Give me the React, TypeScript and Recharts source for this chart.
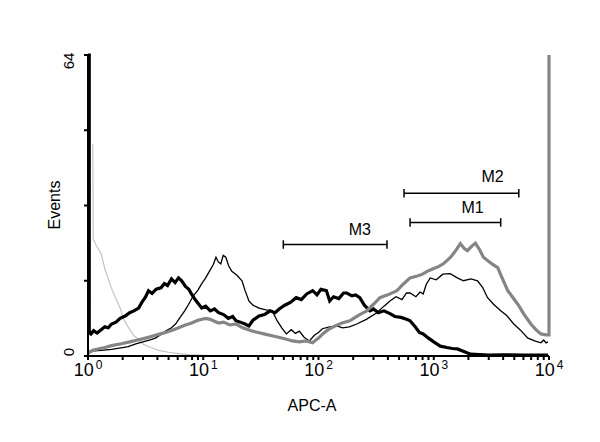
import { LineChart, Line, XAxis, YAxis, ReferenceLine, ReferenceDot } from "recharts";

// [channel value, events]
const thickBlack = [
  [1, 64], [1.025, 64], [1.025, 5], [1.06, 4.7], [1.12, 5.4], [1.2, 4.9], [1.3, 5.6], [1.4, 6.2], [1.5, 6.0], [1.6, 6.8],
  [1.75, 7.2], [1.9, 8.0], [2.1, 8.5], [2.3, 9.2], [2.5, 9.6], [2.75, 10.2], [2.95, 11.5], [3.15, 12.5],
  [3.35, 13.9], [3.6, 13.3], [3.9, 14.2], [4.3, 14.5], [4.6, 15.4], [4.9, 15.0], [5.3, 16.4], [5.7, 15.6],
  [6.1, 16.6], [6.5, 16.0], [7.0, 14.8], [7.5, 14.2], [7.9, 13.2], [8.5, 12.0], [9.0, 11.2], [9.7, 10.2],
  [10.5, 10.6], [11.5, 9.6], [12.5, 10.0], [13.6, 9.2], [15, 8.8], [16.5, 8.0], [18, 8.4], [19.2, 7.5],
  [21, 7.2], [23, 6.8], [24.9, 6.4], [27, 7.6], [30.5, 8.5], [34, 8.8], [38, 9.6], [42, 9.2], [45.6, 10],
  [51, 10.8], [57, 11.4], [64, 12.4], [71, 12.0], [79, 13.2], [89, 13.9], [97, 13.0], [105, 14.2],
  [117, 13.9], [125, 11.7], [135, 12.6], [150, 12.2], [165, 13.4], [176, 13.4], [195, 12.8], [210, 13.0],
  [228, 12.4], [250, 10.8], [279, 9.6], [300, 10.0], [330, 9.2], [370, 9.6], [417, 9.0], [460, 8.4],
  [520, 8.2], [580, 7.8], [623, 7.5], [690, 6.2], [750, 5.0], [810, 4.7], [900, 3.8], [1000, 3.0],
  [1140, 2.1], [1300, 1.8], [1450, 1.6], [1600, 1.5], [1850, 0.9], [2080, 0.4], [2500, 0.3], [3000, 0.2],
  [4000, 0.25], [6000, 0.2], [8000, 0.2], [9800, 0.2],
];

const thinBlack = [
  [1, 1], [1.3, 1.2], [1.6, 1.4], [2.0, 1.8], [2.23, 2], [2.6, 2.6], [3.0, 3.0], [3.4, 3.4], [3.85, 3.8],
  [4.3, 4.6], [4.8, 5.4], [5.3, 6.0], [5.75, 6.8], [6.3, 8.2], [6.9, 9.6], [7.47, 11], [8.2, 12.8],
  [9.0, 14.0], [9.7, 15.4], [10.5, 16.6], [11.3, 18.0], [12.2, 19.4], [12.9, 21], [13.5, 20.0],
  [14.2, 19.6], [14.9, 21.4], [15.7, 21], [16.6, 19.2], [17.7, 18], [19.5, 17.2], [21.7, 16], [23, 14.0],
  [24.9, 11.7], [27, 10.8], [30.5, 10.2], [35, 9.8], [39.6, 9.6], [44, 7.4], [48, 6.0], [52.6, 4.7],
  [58, 5.6], [63, 4.8], [68.2, 5.3], [75, 4.0], [83.5, 3.2], [92, 4.4], [100, 5.0], [108, 5.8],
  [125, 6.2], [144, 6.4], [162, 6.0], [185, 6.2], [215, 6.8], [260, 7.8], [321, 9.2], [370, 10.6],
  [417, 11.7], [470, 12.6], [530, 12.0], [580, 13.4], [623, 13.4], [700, 12.6], [760, 13.6], [810, 13.2],
  [860, 15.2], [931, 16.6], [1050, 16.2], [1200, 17.4], [1390, 17.5], [1600, 16.6], [1810, 16],
  [2100, 16.4], [2400, 16], [2650, 14.6], [2930, 12.4], [3300, 11.0], [3810, 9.6], [4300, 8.6],
  [4940, 6.8], [5600, 5.6], [6560, 3.8], [7500, 3.2], [8510, 2.8], [9000, 3.4], [9420, 2.8], [9800, 3.0],
];

const grayThick = [
  [1, 0.6], [1.1, 1.2], [1.22, 1.5], [1.4, 1.8], [1.6, 2.2], [1.94, 2.6], [2.3, 3.0], [2.7, 3.4],
  [3.15, 3.8], [3.6, 4.2], [4.1, 4.6], [4.7, 5], [5.3, 5.4], [6.11, 6], [7.0, 6.6], [7.94, 7], [9.0, 7.6],
  [10.5, 8], [11.5, 7.8], [12.5, 7.4], [13.6, 7], [15, 7.2], [17, 6.6], [19.2, 6.8], [22, 6.0],
  [26.5, 5.3], [30, 5.0], [35, 4.6], [39.6, 4.3], [45, 4.0], [52, 3.6], [59.3, 3.2], [68, 3.0], [78, 3.2],
  [88.7, 2.8], [100, 3.8], [110, 4.8], [117, 5.3], [125, 5.8], [140, 6.4], [160, 7.0], [187, 7.5],
  [220, 8.6], [262, 9.6], [300, 11.0], [341, 12.4], [400, 13.0], [480, 13.9], [540, 15.2], [623, 16.6],
  [720, 17.0], [800, 17.4], [877, 18], [1000, 18.6], [1100, 19.0], [1210, 19.6], [1400, 21.0],
  [1550, 22.4], [1700, 23.9], [1850, 22.8], [1960, 22.4], [2150, 23.4], [2300, 24], [2500, 22.6],
  [2700, 21.0], [2930, 20.3], [3200, 19.6], [3590, 18.8], [3950, 16.4], [4390, 13.9], [4800, 12.6],
  [5360, 11], [6100, 8.8], [6960, 6.8], [7700, 5.6], [8510, 4.7], [9420, 4.5], [10000, 4.5], [10000, 64],
];

const lightGray = [
  [1.1, 45], [1.11, 25], [1.18, 23.5], [1.3, 21.8], [1.4, 18.5], [1.5, 16.4], [1.62, 14.0], [1.76, 12],
  [1.9, 10.2], [2.02, 8], [2.2, 6.4], [2.47, 4.5], [2.75, 3.4], [3.02, 2.5], [3.5, 1.8], [4.09, 1.2],
  [5, 0.8], [6.11, 0.5], [7.5, 0.3], [9.14, 0.2], [13.6, 0],
];

// markers: name, from, to, level, label x, label y
const markerNames = ["M1", "M2", "M3"];
const markerFrom = [623, 552, 49.5];
const markerTo = [3810, 5470, 393];
const markerLevel = [28.4, 34.6, 23.7];
const markerLabelX = [2170, 3240, 228];
const markerLabelY = [31.6, 38.2, 27];

const decades = [1, 10, 100, 1000, 10000];
const minorSteps = [2, 3, 4, 5, 6, 7, 8, 9];
const yTicks = [0, 16, 32, 48, 64];

const xTicks = [
  ...decades,
  ...decades.slice(0, 4).flatMap((d) => minorSteps.map((m) => d * m)),
].sort((a, b) => a - b);

const toPoints = (rows: number[][]) => rows.map(([x, y]) => ({ x, y }));

const FONT = "'Liberation Sans', Arial, sans-serif";

function XTick(props: any) {
  const { x, y, payload } = props;
  const exp = decades.indexOf(payload.value);
  if (exp < 0) return null;
  return (
    <text x={x} y={y + 14} fontFamily={FONT} fontSize={18} fill="#000" textAnchor="middle">
      10
      <tspan dx={2} dy={-7} fontSize={12}>{exp}</tspan>
    </text>
  );
}

function YTick(props: any) {
  const { y, payload } = props;
  const v = payload.value;
  if (v !== 0 && v !== 64) return null;
  const cy = v === 64 ? y + 6 : y - 4;
  const cx = 68;
  return (
    <text
      x={cx}
      y={cy}
      fontFamily={FONT}
      fontSize={15}
      fill="#000"
      textAnchor="middle"
      dominantBaseline="central"
      transform={`rotate(-90, ${cx}, ${cy})`}
    >
      {v}
    </text>
  );
}

export default function App() {
  return (
    <div style={{ position: "absolute", left: 0, top: 0, width: 600, height: 442, background: "#fff" }}>
      <LineChart width={600} height={442} margin={{ top: 55, right: 51, bottom: 56, left: 48 }}>
        <XAxis
          type="number"
          dataKey="x"
          scale="log"
          domain={[1, 10000]}
          ticks={xTicks}
          interval={0}
          tick={<XTick />}
          tickSize={4}
          height={30}
          stroke="#000"
          strokeWidth={2}
        />
        <YAxis
          type="number"
          dataKey="y"
          domain={[0, 64]}
          ticks={yTicks}
          interval={0}
          width={40}
          tick={<YTick />}
          tickSize={4}
          stroke="#000"
          strokeWidth={2}
        />
        <Line data={toPoints(lightGray)} dataKey="y" stroke="#c4c4c4" strokeWidth={1.2} dot={false} isAnimationActive={false} />
        <Line data={toPoints(thinBlack)} dataKey="y" stroke="#000" strokeWidth={1.3} dot={false} isAnimationActive={false} />
        <Line data={toPoints(thickBlack)} dataKey="y" stroke="#000" strokeWidth={3.2} dot={false} isAnimationActive={false} />
        <Line data={toPoints(grayThick)} dataKey="y" stroke="#858585" strokeWidth={3.2} dot={false} isAnimationActive={false} />
        {markerNames.map((name, i) => (
          <ReferenceLine
            key={name}
            segment={[{ x: markerFrom[i], y: markerLevel[i] }, { x: markerTo[i], y: markerLevel[i] }]}
            stroke="#000"
            strokeWidth={1.5}
          />
        ))}
        {markerNames.map((name, i) => (
          <ReferenceLine
            key={name + "a"}
            segment={[{ x: markerFrom[i], y: markerLevel[i] - 0.9 }, { x: markerFrom[i], y: markerLevel[i] + 0.9 }]}
            stroke="#000"
            strokeWidth={1.5}
          />
        ))}
        {markerNames.map((name, i) => (
          <ReferenceLine
            key={name + "b"}
            segment={[{ x: markerTo[i], y: markerLevel[i] - 0.9 }, { x: markerTo[i], y: markerLevel[i] + 0.9 }]}
            stroke="#000"
            strokeWidth={1.5}
          />
        ))}
        {markerNames.map((name, i) => (
          <ReferenceDot
            key={name + "t"}
            x={markerLabelX[i]}
            y={markerLabelY[i]}
            r={0}
            shape={(p: any) => (
              <text x={p.cx} y={p.cy} fontFamily={FONT} fontSize={16} fill="#000" textAnchor="middle" dominantBaseline="central">
                {name}
              </text>
            )}
          />
        ))}
      </LineChart>
      <div
        style={{
          position: "absolute",
          left: 55,
          top: 205,
          transform: "translate(-50%, -50%) rotate(-90deg)",
          fontFamily: FONT,
          fontSize: 16,
          whiteSpace: "nowrap",
        }}
      >
        Events
      </div>
      <div
        style={{
          position: "absolute",
          left: 312,
          top: 406,
          transform: "translate(-50%, -50%)",
          fontFamily: FONT,
          fontSize: 16,
          whiteSpace: "nowrap",
        }}
      >
        APC-A
      </div>
    </div>
  );
}
